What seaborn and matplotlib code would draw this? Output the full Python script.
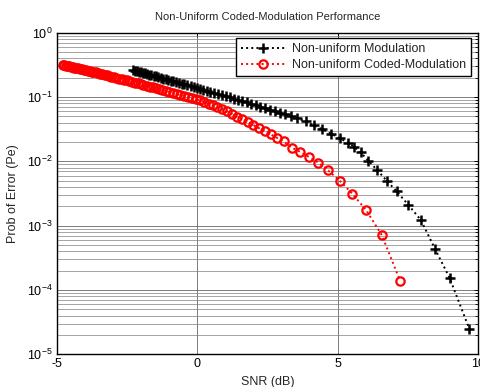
import seaborn as sns
import matplotlib
matplotlib.use("Agg")
import matplotlib.pyplot as plt
import pandas as pd
from matplotlib.ticker import LogLocator, NullFormatter, FixedLocator

# Non-uniform modulation (black, "+")
snr_mod = [-2.30, -2.23, -2.16, -2.09, -2.02, -1.95, -1.88, -1.80, -1.72, -1.64,
           -1.56, -1.48, -1.40, -1.31, -1.22, -1.13, -1.04, -0.95, -0.86, -0.76,
           -0.66, -0.56, -0.46, -0.35, -0.24, -0.13, -0.02, 0.10, 0.22, 0.34,
           0.47, 0.60, 0.73, 0.87, 1.01, 1.15, 1.30, 1.45, 1.60, 1.76,
           1.92, 2.08, 2.25, 2.42, 2.59, 2.77, 2.95, 3.14, 3.35, 3.56,
           3.86, 4.15, 4.45, 4.77, 5.08, 5.37, 5.60, 5.82, 6.10, 6.42,
           6.77, 7.10, 7.52, 7.97, 8.47, 8.99, 9.70]
pe_mod = [0.263, 0.258, 0.253, 0.248, 0.243, 0.238, 0.234, 0.229, 0.223, 0.219,
          0.214, 0.209, 0.204, 0.199, 0.194, 0.190, 0.185, 0.180, 0.176, 0.171,
          0.166, 0.161, 0.157, 0.152, 0.148, 0.143, 0.139, 0.134, 0.129, 0.125,
          0.120, 0.116, 0.111, 0.107, 0.103, 0.0986, 0.0944, 0.0904, 0.0865, 0.0822,
          0.0783, 0.0745, 0.0706, 0.0670, 0.0635, 0.0600, 0.0568, 0.0535, 0.0501, 0.0468,
          0.0417, 0.0363, 0.0316, 0.0269, 0.0229, 0.0195, 0.0166, 0.0138, 0.0102, 0.00724,
          0.00490, 0.00343, 0.00211, 0.00122, 0.000437, 0.000155, 0.0000245]

# Non-uniform coded-modulation (red, "o")
snr_coded = [-4.80, -4.74, -4.68, -4.62, -4.56, -4.50, -4.44, -4.38, -4.32, -4.26,
             -4.19, -4.12, -4.05, -3.98, -3.91, -3.84, -3.77, -3.70, -3.62, -3.54,
             -3.46, -3.38, -3.30, -3.22, -3.14, -3.06, -2.97, -2.88, -2.79, -2.70,
             -2.61, -2.52, -2.42, -2.32, -2.22, -2.12, -2.02, -1.92, -1.81, -1.70,
             -1.59, -1.48, -1.36, -1.24, -1.12, -1.00, -0.87, -0.74, -0.61, -0.48,
             -0.34, -0.20, -0.06, 0.09, 0.24, 0.40, 0.56, 0.72, 0.89, 1.06,
             1.24, 1.42, 1.61, 1.80, 2.00, 2.20, 2.41, 2.62, 2.84, 3.08,
             3.38, 3.66, 3.98, 4.31, 4.66, 5.07, 5.52, 6.02, 6.58, 7.23]
pe_coded = [0.316, 0.312, 0.308, 0.303, 0.299, 0.295, 0.291, 0.287, 0.283, 0.279,
            0.275, 0.270, 0.266, 0.262, 0.258, 0.254, 0.249, 0.245, 0.241, 0.237,
            0.232, 0.227, 0.222, 0.218, 0.213, 0.208, 0.204, 0.199, 0.194, 0.189,
            0.185, 0.181, 0.176, 0.171, 0.167, 0.163, 0.158, 0.154, 0.149, 0.145,
            0.141, 0.137, 0.132, 0.128, 0.124, 0.120, 0.116, 0.112, 0.108, 0.104,
            0.100, 0.0964, 0.0927, 0.0883, 0.0836, 0.0787, 0.0740, 0.0692, 0.0646, 0.0598,
            0.0545, 0.0497, 0.0451, 0.0407, 0.0366, 0.0328, 0.0293, 0.0262, 0.0232, 0.0204,
            0.0162, 0.0141, 0.0117, 0.00955, 0.00724, 0.00501, 0.00316, 0.00174, 0.000708, 0.000138]

x_ticks = [-5, 0, 5, 10]
title = "Non-Uniform Coded-Modulation Performance"

sns.set_style("white")
plt.rcParams["font.family"] = ["Liberation Sans", "DejaVu Sans"]
plt.rcParams["mathtext.fontset"] = "custom"
plt.rcParams["mathtext.rm"] = "Liberation Sans"
plt.rcParams["mathtext.it"] = "Liberation Sans"
plt.rcParams["axes.unicode_minus"] = False
plt.rcParams["font.size"] = 9

df_mod = pd.DataFrame({"snr": snr_mod, "pe": pe_mod})
df_coded = pd.DataFrame({"snr": snr_coded, "pe": pe_coded})

fig = plt.figure(figsize=(4.81, 3.87), dpi=100)
ax = fig.add_axes([0.1185, 0.0845, 0.875, 0.831])

sns.lineplot(data=df_mod, x="snr", y="pe", ax=ax, color="black", linestyle=":",
             linewidth=1.4, marker="+", markersize=7, markeredgewidth=1.8,
             markeredgecolor="black", estimator=None, sort=False,
             label="Non-uniform Modulation")
sns.lineplot(data=df_coded, x="snr", y="pe", ax=ax, color="red", linestyle=":",
             linewidth=1.4, marker="o", markersize=6, markeredgewidth=1.6,
             markerfacecolor="none", markeredgecolor="red", estimator=None, sort=False,
             label="Non-uniform Coded-Modulation")

ax.set_yscale("log")
ax.set_xlim(-5, 10)
ax.set_ylim(1e-5, 1)
ax.xaxis.set_major_locator(FixedLocator(x_ticks))
ax.yaxis.set_major_locator(LogLocator(base=10, numticks=10))
ax.yaxis.set_minor_locator(LogLocator(base=10, subs=range(2, 10), numticks=10))
ax.yaxis.set_minor_formatter(NullFormatter())

ax.grid(True, which="major", color="0.4", linestyle="-", linewidth=0.6)
ax.grid(True, which="minor", axis="y", color="0.5", linestyle="-", linewidth=0.5)
ax.set_axisbelow(True)

ax.tick_params(which="both", direction="in", top=True, right=True, colors="black",
               labelsize=9)
ax.tick_params(which="major", length=3, width=0.7, pad=3)
ax.tick_params(which="minor", length=2, width=0.6)
for s in ax.spines.values():
    s.set_color("black")
    s.set_linewidth(1.0)

ax.set_title(title, fontsize=8, pad=9)
ax.set_xlabel("SNR (dB)", fontsize=9, labelpad=4)
ax.set_ylabel("Prob of Error (Pe)", fontsize=9, labelpad=6)

leg = ax.legend(loc="upper right", bbox_to_anchor=(0.984, 0.983), borderaxespad=0,
                fancybox=False, framealpha=1, edgecolor="black", fontsize=9,
                handlelength=3.6, handletextpad=0.5, borderpad=0.4, labelspacing=0.3)
leg.get_frame().set_linewidth(1.0)

fig.savefig("out.png", dpi=100)
